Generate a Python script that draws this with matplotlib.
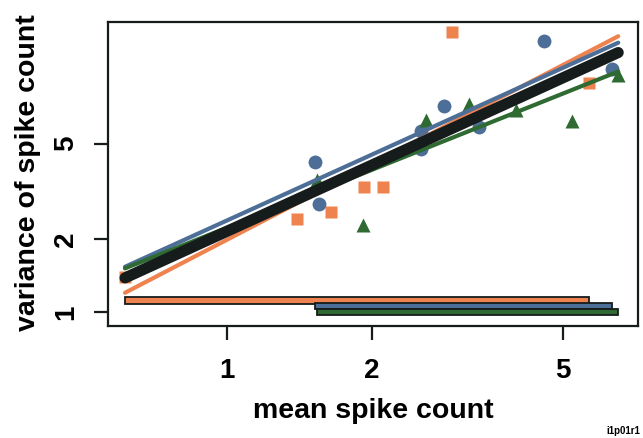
import matplotlib
matplotlib.use("Agg")
import matplotlib.pyplot as plt
import matplotlib.patches as mpatches
import matplotlib.transforms as mtransforms
from matplotlib.ticker import FixedLocator, NullLocator
import numpy as np

plt.rcParams["font.family"] = ["Liberation Sans", "DejaVu Sans"]

# orange squares (mean, variance)
ORANGE_X = [0.613, 1.40, 1.65, 1.93, 2.11, 2.94, 5.68]
ORANGE_Y = [1.40, 2.43, 2.60, 3.30, 3.30, 14.5, 8.92]
# blue circles
BLUE_X = [1.525, 1.555, 2.54, 2.54, 2.83, 3.35, 4.57, 6.34]
BLUE_Y = [4.19, 2.81, 5.64, 4.75, 7.16, 5.86, 13.3, 10.2]
# green triangles
GREEN_X = [1.54, 1.92, 2.60, 3.19, 4.00, 5.23, 6.53]
GREEN_Y = [3.53, 2.30, 6.26, 7.30, 6.89, 6.20, 9.62]

# fitted lines: log10(var) = a + b*log10(mean)
FIT_INTERCEPT = [0.300, 0.380, 0.350, 0.335]   # orange, blue, green, pooled
FIT_SLOPE = [1.036, 0.905, 0.795, 0.910]

X_TICKS = [1, 2, 5]
Y_TICKS = [1, 2, 5]

ORANGE = "#EF8350"
BLUE = "#4D6E96"
GREEN = "#2E6A32"
BLACK = "#161b1b"

fig = plt.figure(figsize=(6.43, 4.38), dpi=100)
ax = fig.add_axes([108/643, 1 - 326/438, 530/643, 304/438])
ax.set_xscale("log")
ax.set_yscale("log")
ax.set_xlim(0.565, 7.18)
ax.set_ylim(0.875, 15.97)

# points
ax.plot(ORANGE_X, ORANGE_Y, "s", ms=8.5, color=ORANGE, mec="none", zorder=2)
ax.plot(BLUE_X, BLUE_Y, "o", ms=10, color=BLUE, mec="none", zorder=2)
ax.plot(GREEN_X, GREEN_Y, "^", ms=10, color=GREEN, mec="none", zorder=2)

# regression lines over the full range of means
all_x = ORANGE_X + BLUE_X + GREEN_X
xs = np.array([min(all_x), max(all_x)])
line_cols = [ORANGE, BLUE, GREEN, BLACK]
line_w = [3, 3, 3, 8]
for a, b, c, w in zip(FIT_INTERCEPT, FIT_SLOPE, line_cols, line_w):
    ys = 10 ** (a + b * np.log10(xs))
    ax.plot(xs, ys, color=c, lw=w, solid_capstyle="round", zorder=3)

# range bars near the bottom (data x, axes y)
trans = mtransforms.blended_transform_factory(ax.transData, ax.transAxes)
bars = [(ORANGE_X, ORANGE, 0.074), (BLUE_X, BLUE, 0.055), (GREEN_X, GREEN, 0.035)]
for xv, c, y0 in bars:
    ax.add_patch(mpatches.Rectangle((min(xv), y0), max(xv) - min(xv), 0.02,
                                    transform=trans, facecolor=c,
                                    edgecolor=BLACK, linewidth=1.3, zorder=3))

ax.xaxis.set_major_locator(FixedLocator(X_TICKS))
ax.yaxis.set_major_locator(FixedLocator(Y_TICKS))
ax.xaxis.set_minor_locator(NullLocator())
ax.yaxis.set_minor_locator(NullLocator())
ax.set_xticklabels([str(t) for t in X_TICKS])
ax.set_yticklabels([str(t) for t in Y_TICKS], rotation=90, va="center")
ax.tick_params(axis="both", direction="out", length=10, width=1.6,
               color=BLACK, labelsize=20)
ax.tick_params(axis="x", pad=13)
ax.tick_params(axis="y", pad=11)
for lab in ax.get_xticklabels() + ax.get_yticklabels():
    lab.set_fontweight("bold")
for sp in ax.spines.values():
    sp.set_linewidth(1.6)
    sp.set_color(BLACK)

ax.set_xlabel("mean spike count", fontsize=20.5, fontweight="bold", va="center")
ax.set_ylabel("variance of spike count", fontsize=20.5, fontweight="bold", va="center")
ax.xaxis.set_label_coords(0.5, -0.278)
ax.yaxis.set_label_coords(-0.151, 0.503)

fig.text(640/643, 1 - 431/438, "i1p01r1", ha="right", va="center",
         fontsize=7, fontweight="bold")

fig.savefig("out.png", dpi=100)
